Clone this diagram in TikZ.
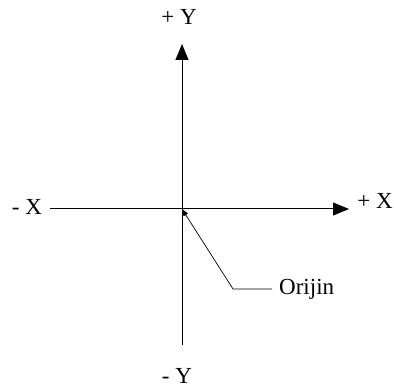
\documentclass[tikz,border=0pt]{standalone}
\usepackage{fontspec}
\setmainfont{Liberation Serif}
\usetikzlibrary{arrows.meta,positioning}

\begin{document}
\begin{tikzpicture}[x=1pt,y=-1pt,
    axis/.style={line width=1pt,-{Triangle[length=16pt,width=13pt]}},
    lbl/.style={font=\fontsize{23}{26}\selectfont,inner sep=0pt}]
    \useasboundingbox (0,0) rectangle (394,390);

    % Origin and axis ends
    \coordinate (O) at (182,209);
    \coordinate (xl) at (50,209);
    \coordinate (xr) at (349,209);
    \coordinate (yt) at (182,44);
    \coordinate (yb) at (182,345);

    % Axis labels
    \node[lbl] (py) at (179,17) {+ Y};
    \node[lbl] (my) at (177,376) {- Y};
    \node[lbl] (mx) at (27,207) {- X};
    \node[lbl] (px) at (375,201) {+ X};
    \node[lbl,anchor=west] (org) at (279,289) {Orijin};

    % Pointer to the origin
    \coordinate (knee) at (233,289);
    \draw[line width=0.7pt,-{Triangle[length=7pt,width=5pt]}] ([xshift=-7pt]org.west) -- (knee) -- (O);

    % Axes
    \draw[axis] (xl) -- (xr);
    \draw[axis] (yb) -- (yt);
\end{tikzpicture}
\end{document}
